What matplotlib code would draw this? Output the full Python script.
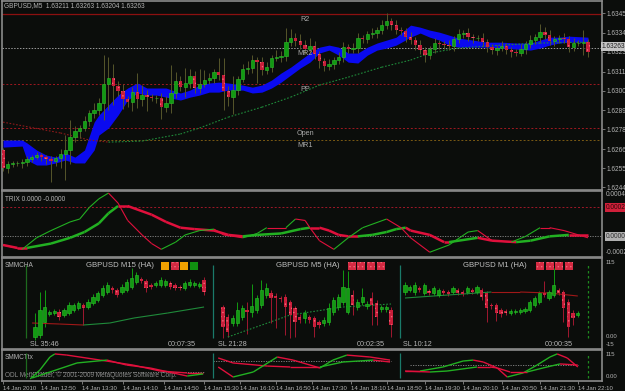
import numpy as np
import matplotlib
matplotlib.use('Agg')
import matplotlib.pyplot as plt
from matplotlib.patches import Rectangle
from matplotlib.collections import LineCollection

plt.rcParams['font.family'] = ['Liberation Sans', 'DejaVu Sans']
plt.rcParams['hatch.linewidth'] = 0.5

# ---------------- data: main GBPUSD M5 chart ----------------
first_open = 1.62660
closes = [1.62556, 1.62579, 1.62585, 1.62585, 1.62590, 1.62608, 1.62619, 1.62631, 1.62619, 1.62608,
          1.62596, 1.62614, 1.62637, 1.62660, 1.62735, 1.62770, 1.62788, 1.62828, 1.62875, 1.62892,
          1.62933, 1.63043, 1.63078, 1.63031, 1.63002, 1.62956, 1.62938, 1.62996, 1.62956, 1.62979,
          1.62967, 1.62962, 1.62962, 1.62909, 1.62933, 1.62991, 1.63060, 1.63025, 1.63049, 1.63089,
          1.63020, 1.63043, 1.63066, 1.63078, 1.63112, 1.63095, 1.63002, 1.62967, 1.63008, 1.63072,
          1.63130, 1.63136, 1.63182, 1.63170, 1.63124, 1.63141, 1.63194, 1.63199, 1.63205, 1.63286,
          1.63310, 1.63292, 1.63269, 1.63246, 1.63263, 1.63217, 1.63176, 1.63147, 1.63159, 1.63182,
          1.63199, 1.63257, 1.63246, 1.63252, 1.63310, 1.63304, 1.63333, 1.63339, 1.63356, 1.63385,
          1.63408, 1.63385, 1.63356, 1.63350, 1.63315, 1.63298, 1.63269, 1.63240, 1.63211, 1.63246,
          1.63281, 1.63275, 1.63269, 1.63263, 1.63304, 1.63333, 1.63339, 1.63315, 1.63310, 1.63310,
          1.63286, 1.63257, 1.63240, 1.63252, 1.63263, 1.63240, 1.63228, 1.63223, 1.63246, 1.63275,
          1.63298, 1.63315, 1.63344, 1.63327, 1.63292, 1.63304, 1.63310, 1.63304, 1.63257, 1.63281,
          1.63281, 1.63286, 1.63228]
# wick lengths in pips above / below the body
wick_up = [1, 2, 1, 1, 2, 2, 1, 2, 1, 1, 2, 1, 3, 9, 10, 3, 2, 3, 2, 4,
           3, 17, 12, 8, 3, 4, 2, 3, 11, 6, 3, 2, 2, 3, 4, 16, 5, 3, 9, 4,
           3, 9, 6, 3, 2, 8, 10, 3, 8, 2, 3, 4, 3, 2, 3, 3, 2, 4, 3, 8,
           5, 3, 4, 3, 5, 3, 2, 2, 3, 2, 3, 3, 2, 3, 3, 2, 2, 3, 2, 3,
           5, 2, 3, 2, 2, 3, 2, 3, 2, 2, 3, 2, 2, 3, 2, 3, 2, 3, 2, 2,
           3, 2, 2, 2, 3, 2, 2, 2, 3, 2, 3, 2, 5, 3, 3, 2, 2, 3, 2, 3,
           2, 7, 2]
wick_dn = [2, 3, 2, 2, 3, 2, 2, 1, 2, 3, 12, 3, 6, 15, 8, 3, 4, 2, 3, 3,
           3, 10, 15, 11, 3, 6, 3, 5, 5, 4, 8, 2, 3, 7, 3, 6, 3, 2, 6, 3,
           3, 3, 2, 2, 3, 3, 11, 5, 10, 3, 2, 3, 3, 12, 3, 2, 3, 2, 3, 3,
           2, 3, 2, 3, 2, 3, 4, 3, 2, 3, 2, 3, 2, 2, 3, 2, 2, 2, 3, 2,
           2, 3, 2, 2, 3, 2, 3, 2, 4, 2, 2, 3, 2, 2, 3, 2, 2, 2, 3, 2,
           2, 3, 2, 3, 2, 2, 3, 2, 2, 3, 2, 2, 3, 2, 2, 3, 2, 2, 3, 2,
           2, 7, 3]

band_x = [0, 4, 5, 7, 9, 11, 13, 15, 17, 19, 20, 22, 24, 26, 28, 30, 32, 34, 37, 39,
          41, 43, 45, 47, 50, 52, 54, 56, 58, 60, 62, 64, 66, 68, 70, 72, 74, 76, 78, 80,
          82, 85, 87, 89, 91, 93, 95, 98, 101, 104, 107, 110, 112, 114, 116, 118, 122]
band_hi = [1.62718, 1.62718, 1.62701, 1.62660, 1.62631, 1.62619, 1.62643, 1.62619, 1.62660, 1.62822,
           1.62863, 1.62921, 1.62979, 1.63020, 1.63049, 1.63020, 1.63020, 1.63020, 1.62991, 1.63008,
           1.63037, 1.63049, 1.63054, 1.63049, 1.63037, 1.63025, 1.63037, 1.63066, 1.63107, 1.63141,
           1.63182, 1.63223, 1.63257, 1.63269, 1.63257, 1.63223, 1.63223, 1.63257, 1.63281, 1.63298,
           1.63315, 1.63385, 1.63373, 1.63356, 1.63344, 1.63327, 1.63310, 1.63298, 1.63286, 1.63286,
           1.63281, 1.63281, 1.63298, 1.63315, 1.63315, 1.63321, 1.63315]
band_lo = [1.62677, 1.62683, 1.62602, 1.62573, 1.62573, 1.62585, 1.62602, 1.62585, 1.62585, 1.62660,
           1.62747, 1.62788, 1.62863, 1.62950, 1.62991, 1.62979, 1.62979, 1.62967, 1.62950, 1.62967,
           1.62979, 1.62996, 1.62996, 1.63008, 1.63008, 1.62991, 1.62996, 1.63020, 1.63054, 1.63095,
           1.63136, 1.63170, 1.63223, 1.63240, 1.63211, 1.63170, 1.63165, 1.63211, 1.63240, 1.63252,
           1.63269, 1.63315, 1.63339, 1.63315, 1.63298, 1.63269, 1.63257, 1.63257, 1.63257, 1.63252,
           1.63246, 1.63240, 1.63252, 1.63269, 1.63281, 1.63286, 1.63286]

ma_x = [0, 12, 18, 22, 29, 37, 41, 47, 54, 60, 66, 72, 79, 85, 89, 95, 104, 112, 122]
ma_vals = [1.62822, 1.62759, 1.62718, 1.62706, 1.62712, 1.62753, 1.62788, 1.62851, 1.62909, 1.62967,
           1.63037, 1.63083, 1.63141, 1.63182, 1.63223, 1.63252, 1.63269, 1.63281, 1.63286]

pivot_names = ['R2', 'MR2', 'PP', 'Open', 'MR1']
pivot_vals = [1.63449, 1.63252, 1.63043, 1.62788, 1.62718]
price_ticks = [1.63455, 1.63340, 1.63230, 1.63115, 1.63005, 1.62890, 1.62780, 1.62665, 1.62555, 1.62445]
last_price = 1.63263

# ---------------- data: TRIX ----------------
trix_fast_x = [0, 4, 7, 10, 14, 16, 18, 20, 22, 24, 26, 29, 31, 33, 36, 38, 41, 44, 46, 50,
               53, 55, 59, 61, 63, 64, 66, 69, 72, 75, 80, 83, 85, 89, 93, 97, 99, 102, 106, 109,
               112, 114, 117, 120, 122]
trix_fast = [-0.00006, -0.00009, -0.00001, 0.00004, 0.00010, 0.00012, 0.00020, 0.00026, 0.00030, 0.00023,
             0.00011, 0.00001, -0.00005, -0.00009, -0.00004, 0.00001, 0.00004, 0.00005, 0.00001, -0.00001,
             0.00002, 0.00006, 0.00006, 0.00012, 0.00011, 0.00006, -0.00003, -0.00009, -0.00001, 0.00006,
             0.00012, 0.00006, -0.00001, -0.00011, -0.00006, 0.00003, 0.00004, -0.00003, -0.00004, 0.00000,
             0.00006, 0.00006, 0.00004, 0.00001, -0.00001]
trix_slow_x = [0, 3, 5, 10, 14, 17, 20, 22, 24, 26, 31, 34, 37, 40, 44, 47, 50, 53, 58, 62,
               64, 66, 68, 70, 72, 74, 77, 80, 82, 84, 85, 89, 92, 93, 99, 102, 107, 110, 114, 118, 122]
trix_slow = [-0.00006, -0.00008, -0.00008, -0.00005, -0.00001, 0.00003, 0.00009, 0.00016, 0.00021, 0.00021,
             0.00015, 0.00010, 0.00006, 0.00005, 0.00004, 0.00001, 0.00000, 0.00001, 0.00002, 0.00005,
             0.00006, 0.00006, 0.00004, 0.00001, 0.00000, 0.00000, 0.00001, 0.00003, 0.00005, 0.00006,
             0.00004, 0.00001, -0.00004, -0.00004, -0.00001, -0.00003, -0.00004, -0.00003, 0.00000, 0.00001,
             0.00001]
trix_level = 0.0002

# ---------------- data: SMMCHA heiken ashi mini charts (points above window low) ----------------
m15_o = [3, 5, 18, 26, 27, 28, 25, 27, 30, 32, 35, 33, 37, 40, 45, 48, 52, 50, 48, 50,
         53, 58, 61, 59, 55, 55, 55, 55, 57, 55, 53, 52, 55, 55, 54, 60]
m15_c = [13, 30, 33, 28, 29, 23, 30, 35, 35, 37, 32, 38, 43, 47, 52, 55, 50, 45, 53, 58,
         62, 65, 59, 52, 53, 57, 60, 59, 53, 52, 52, 57, 58, 57, 56, 48]
m15_up = [14, 18, 17, 2, 2, 3, 2, 3, 2, 2, 2, 3, 3, 2, 3, 3, 2, 2, 3, 3,
          10, 3, 2, 2, 2, 2, 3, 2, 2, 2, 2, 2, 3, 2, 2, 3]
m15_dn = [3, 3, 5, 2, 2, 3, 2, 2, 2, 2, 17, 2, 2, 2, 2, 2, 3, 2, 2, 2,
          2, 2, 2, 4, 2, 2, 2, 2, 2, 2, 2, 2, 2, 2, 2, 3]
m5_o = [33, 23, 17, 17, 23, 30, 28, 30, 35, 45, 47, 44, 42, 43, 38, 32, 23, 22, 23, 22,
        18, 17, 18, 28, 33, 38, 28, 45, 33, 38, 34, 42, 37, 31, 31, 30]
m5_c = [13, 8, 22, 30, 32, 28, 34, 42, 50, 52, 42, 42, 41, 33, 25, 18, 20, 27, 20, 13,
        15, 20, 32, 40, 43, 53, 52, 35, 38, 43, 36, 35, 23, 33, 33, 15]
m5_up = [2, 3, 3, 8, 3, 8, 22, 3, 10, 5, 3, 3, 2, 3, 2, 2, 3, 3, 2, 2,
         2, 3, 5, 3, 3, 17, 17, 5, 3, 9, 3, 6, 3, 2, 2, 3]
m5_dn = [11, 5, 3, 3, 3, 22, 5, 3, 3, 3, 25, 30, 3, 28, 23, 15, 3, 5, 3, 10,
         3, 3, 3, 3, 3, 3, 2, 10, 3, 3, 3, 20, 8, 3, 3, 12]
m1_o = [48, 50, 48, 52, 47, 49, 47, 45, 49, 48, 48, 50, 48, 48, 50, 48, 50, 47, 35, 35,
        30, 29, 27, 28, 28, 29, 30, 35, 38, 47, 42, 45, 50, 48, 38, 27, 25]
m1_c = [55, 53, 55, 50, 55, 47, 52, 50, 47, 46, 52, 47, 46, 52, 48, 53, 43, 32, 34, 27,
        26, 27, 29, 29, 30, 31, 38, 42, 47, 45, 48, 55, 47, 32, 13, 22, 27]
m1_up = [3, 2, 3, 2, 2, 2, 2, 2, 2, 2, 2, 2, 2, 2, 2, 2, 2, 2, 2, 2,
         2, 2, 2, 2, 2, 2, 2, 2, 2, 12, 2, 17, 2, 2, 3, 3, 2]
m1_dn = [3, 2, 3, 2, 2, 2, 2, 2, 2, 2, 2, 2, 2, 2, 2, 2, 3, 14, 3, 8,
         3, 2, 2, 2, 2, 2, 2, 2, 2, 2, 2, 2, 2, 14, 10, 7, 2]
ma15_x = [-0.6, 5, 10, 15.5, 20.5, 27.5, 35]
ma15 = [17, 16, 15, 17, 22, 27, 33]
ma5_x = [1, 14, 25, 35]
ma5 = [3, 25, 33, 36]
ma1_x = [0, 6, 12, 18, 24, 30, 36]
ma1 = [42, 44, 46, 48, 48, 47, 44]

mini_titles = ['GBPUSD M15 (HA)', 'GBPUSD M5 (HA)', 'GBPUSD M1 (HA)']
mini_status = [['#f0a000', '#d42a42', '#f0a000', '#109010'],
               ['#d42a42'] * 4,
               ['#d42a42'] * 4]
mini_sl = ['SL 35:46', 'SL 21:28', 'SL 10:12']
mini_timer = ['00:07:35', '00:02:35', '00:00:35']

# ---------------- data: SMMCTtx ----------------
t15a_x = [-1, 1, 3.1, 4.1, 6.6, 13.5, 20.3, 25.9, 31.5, 34.8]
t15a = [-10, 36, 104, 120, 114, 88, 62, 31, 21, 21]
t15b_x = [-0.6, 3.1, 8.7, 14.9, 19, 23.8, 28.6, 31.5, 34.8]
t15b = [-5, 26, 73, 88, 62, 47, 21, 5, 16]
t5a_x = [-1, 2.1, 9.2, 14, 20.2, 25, 31.3, 34.8]
t5a = [99, 73, 57, 52, 52, 78, 88, 78]
t5b_x = [-1, 2.1, 6.3, 11.3, 14.6, 20.2, 22.9, 25.8, 30.6, 34.8]
t5b = [52, 0, 26, 104, 88, 47, 88, 114, 104, 88]
t1a_x = [0, 3.1, 7.9, 12.1, 14.2, 16.3, 19.2, 21.3, 24.6, 27.5, 30.2, 31.7, 33.8, 36]
t1a = [31, 31, 52, 83, 88, 78, 47, 0, 21, 62, 104, 120, 99, 52]
t1b_x = [0, 5.2, 8.75, 15, 17.7, 19.2, 21.9, 25.4, 28.75, 32.3, 36]
t1b = [31, 26, 31, 52, 52, 47, 26, 26, 47, 68, 62]
tt_levels = [26, 83, 62]

time_ticks = [0, 8, 16.5, 25, 33.5, 42, 49.5, 57, 64.5, 72.5, 80, 88, 96, 104, 112, 120]
time_labels = ['14 Jan 2010', '14 Jan 12:50', '14 Jan 13:30', '14 Jan 14:10', '14 Jan 14:50',
               '14 Jan 15:30', '14 Jan 16:10', '14 Jan 16:50', '14 Jan 17:30', '14 Jan 18:10',
               '14 Jan 18:50', '14 Jan 19:30', '14 Jan 20:10', '14 Jan 20:50', '14 Jan 21:30',
               '14 Jan 22:10']

# ---------------- style ----------------
W, H = 625, 391
BG = '#0b0d0b'
FRAME = '#8a8a8a'
TXT = '#b4b4b4'
BULL = '#129a12'
BULL_E = '#2cc02c'
BEAR = '#c81e3a'
BEAR_E = '#f06a7a'
UPC = '#22b022'
DNC = '#e0103c'
FS = 4.7


def box(x0, y0, x1, y1):
    return [x0 / W, 1 - y1 / H, (x1 - x0) / W, (y1 - y0) / H]


def fx(x):
    return x / W


def fy(y):
    return 1 - y / H


def frame(ax):
    ax.set_facecolor(BG)
    for s in ax.spines.values():
        s.set_color(FRAME)
        s.set_linewidth(1.2)


def slope_line(ax, x, y, lw, ls='-', up=UPC, dn=DNC, z=3):
    pts = np.column_stack([x, y])
    segs = np.stack([pts[:-1], pts[1:]], axis=1)
    cols = [up if b > a else dn for a, b in zip(y[:-1], y[1:])]
    ax.add_collection(LineCollection(segs, colors=cols, linewidths=lw, linestyles=ls, zorder=z))


def candles(ax, o, c, up, dn, unit, wick_col=None, width=0.7, min_h=0.0):
    o = np.asarray(o, float)
    c = np.asarray(c, float)
    idx = np.arange(len(o))
    top = np.maximum(o, c)
    bot = np.minimum(o, c)
    bull = c >= o
    hi = top + np.asarray(up) * unit
    lo = bot - np.asarray(dn) * unit
    for i in idx:
        wc = wick_col if wick_col else (BULL if bull[i] else '#a01830')
        ax.vlines(i, lo[i], hi[i], color=wc, lw=0.7, zorder=3)
    hgt = np.maximum(top - bot, min_h)
    ax.bar(idx[bull], hgt[bull], bottom=bot[bull], width=width, color=BULL,
           edgecolor=BULL_E, linewidth=0.4, zorder=4)
    ax.bar(idx[~bull], hgt[~bull], bottom=bot[~bull], width=width, color=BEAR,
           edgecolor=BEAR_E, linewidth=0, hatch='....', zorder=4)


fig = plt.figure(figsize=(6.25, 3.91), dpi=100, facecolor=BG)

# ---------------- main chart ----------------
step = 4.795
x0 = 3
xl = ((2 - x0) / step, (602 - x0) / step)
ax = fig.add_axes(box(2, 1, 602, 190))
frame(ax)
ax.set_xlim(*xl)
ax.set_ylim(1.62428, 1.63525)

ax.fill_between(band_x, band_lo, band_hi, color='#0a0af0', lw=0, zorder=2)
opens = [first_open] + closes[:-1]
candles(ax, opens, closes, wick_up, wick_dn, 0.0001, wick_col='#56562a', min_h=0.00002)
slope_line(ax, ma_x, ma_vals, 0.8, ls=(0, (1.5, 1.5)), up='#1f8a3a', dn='#8c1a1a', z=2.5)

pstyles = [dict(color='#8c1010', ls='-', lw=0.9),
           dict(color='#9a9a9a', ls=(0, (1.5, 1.5)), lw=0.7),
           dict(color='#a01820', ls=(0, (2, 2)), lw=0.7),
           dict(color='#a01820', ls=(0, (2, 2)), lw=0.7),
           dict(color='#7a5a14', ls=(0, (2, 2)), lw=0.7)]
for name, val, st in zip(pivot_names, pivot_vals, pstyles):
    ax.axhline(val, zorder=1.5, **st)
    ax.annotate(name, (63, val), xytext=(0, -1.2), textcoords='offset points',
                ha='center', va='top', color='#a8a8a8', fontsize=5.2, zorder=6)

ax.yaxis.tick_right()
ax.set_yticks(price_ticks)
ax.set_yticklabels(['%.5f' % p for p in price_ticks])
ax.tick_params(axis='y', colors=FRAME, labelcolor=TXT, labelsize=FS, length=2, pad=1.5, width=0.6)
ax.set_xticks([])
ax.text(1.0, last_price, '%.5f' % last_price, transform=ax.get_yaxis_transform(),
        ha='left', va='center', fontsize=FS, color='#202020',
        bbox=dict(boxstyle='square,pad=0.15', fc='#c4c4c4', ec='none'), clip_on=False)
ax.text(0.003, 0.995, 'GBPUSD,M5  1.63211 1.63263 1.63204 1.63263', transform=ax.transAxes,
        ha='left', va='top', fontsize=FS, color=TXT)

# ---------------- TRIX ----------------
at = fig.add_axes(box(2, 191, 602, 257))
frame(at)
at.set_xlim(*xl)
at.set_ylim(-0.000143, 0.000314)
at.axhline(trix_level, color='#a01828', ls=(0, (2, 2)), lw=0.7)
at.axhline(0, color='#8a8a8a', ls=(0, (1.5, 1.5)), lw=0.6)
slope_line(at, trix_slow_x, trix_slow, 1.8)
slope_line(at, trix_fast_x, trix_fast, 0.8)
at.set_xticks([])
at.set_yticks([])
at.text(0.005, 0.93, 'TRIX 0.0000 -0.0000', transform=at.transAxes, ha='left', va='top',
        fontsize=FS, color=TXT)
fig.text(fx(606), fy(195), '0.0004', fontsize=FS, color=TXT, va='center')
fig.text(fx(606), fy(252), '-0.0002', fontsize=FS, color=TXT, va='center')
at.text(1.007, trix_level, '0.00020', transform=at.get_yaxis_transform(), ha='left', va='center',
        fontsize=FS, color='#300808', bbox=dict(boxstyle='square,pad=0.15', fc='#d0203a', ec='none'),
        clip_on=False)
at.text(1.007, 0, '0.00000', transform=at.get_yaxis_transform(), ha='left', va='center',
        fontsize=FS, color='#303030', bbox=dict(boxstyle='square,pad=0.15', fc='#b0b0b0', ec='none'),
        clip_on=False)

# ---------------- SMMCHA / SMMCTtx panels ----------------
ah = fig.add_axes(box(2, 258, 602, 349))
frame(ah)
ah.set_xlim(*xl)
ah.set_xticks([])
ah.set_yticks([])
ah.text(0.005, 0.96, 'SMMCHA', transform=ah.transAxes, ha='left', va='top', fontsize=FS, color=TXT)

aw = fig.add_axes(box(2, 350, 602, 381))
frame(aw)
aw.set_xlim(*xl)
aw.set_yticks([])
aw.set_xticks(time_ticks)
aw.set_xticklabels(time_labels)
for lbl in aw.get_xticklabels():
    lbl.set_horizontalalignment('left')
aw.tick_params(axis='x', colors=FRAME, labelcolor=TXT, labelsize=4.3, length=2.5, pad=0.8, width=0.6)
aw.text(0.005, 0.88, 'SMMCTtx', transform=aw.transAxes, ha='left', va='top', fontsize=FS, color=TXT)
aw.text(0.005, 0.08, 'ODL MetaTrader, \u00a9 2001-2009 MetaQuotes Software Corp.',
        transform=aw.transAxes, ha='left', va='bottom', fontsize=FS, color='#8c8c8c', zorder=1)

for txt, yy in [('115', 263), ('0.00', 337), ('-15', 344), ('115', 355), ('0.00', 377)]:
    fig.text(fx(606), fy(yy), txt, fontsize=4.3, color=TXT, va='center')

minis = [
    dict(x0=35, st=4.83, o=m15_o, c=m15_c, up=m15_up, dn=m15_dn, max_=ma15_x, ma=ma15, mals='-',
         ta=(t15a_x, t15a), tb=(t15b_x, t15b), lev=tt_levels[0], lev_x=(-1, 35),
         vl=[(-1.86, '#1e6a1e', '-')], tx=(86, 161), sl_x=30, tm_x=168),
    dict(x0=223, st=4.8, o=m5_o, c=m5_c, up=m5_up, dn=m5_dn, max_=ma5_x, ma=ma5, mals=(0, (1.5, 1.5)),
         ta=(t5a_x, t5a), tb=(t5b_x, t5b), lev=tt_levels[1], lev_x=(-2, 35),
         vl=[(-2.08, '#1a7a6a', '-')], tx=(276, 348), sl_x=218, tm_x=357),
    dict(x0=405, st=4.8, o=m1_o, c=m1_c, up=m1_up, dn=m1_dn, max_=ma1_x, ma=ma1, mals='-',
         ta=(t1a_x, t1a), tb=(t1b_x, t1b), lev=tt_levels[2], lev_x=(1, 36),
         vl=[(-1.04, '#1a7a6a', '-'), (38.1, '#1e8a1e', (0, (2, 2)))], tx=(463, 536), sl_x=403, tm_x=545),
]

for k, m in enumerate(minis):
    mxl = ((2 - m['x0']) / m['st'], (602 - m['x0']) / m['st'])
    a1 = fig.add_axes(box(2, 258, 602, 349))
    a1.set_facecolor('none')
    a1.axis('off')
    a1.set_xlim(*mxl)
    a1.set_ylim(-9, 82)
    candles(a1, m['o'], m['c'], m['up'], m['dn'], 1.0, width=0.7, min_h=1.0)
    slope_line(a1, m['max_'], m['ma'], 0.8, ls=m['mals'], up='#1f8a3a', dn='#a01818', z=3.5)
    for vx, vc, vls in m['vl']:
        a1.vlines(vx, 2, 75, color=vc, lw=0.9, ls=vls)

    a2 = fig.add_axes(box(2, 350, 602, 381))
    a2.set_facecolor('none')
    a2.axis('off')
    a2.set_xlim(*mxl)
    a2.set_ylim(-20.8, 140.4)
    a2.hlines(m['lev'], m['lev_x'][0], m['lev_x'][1], color='#8a8a8a', lw=0.6, ls=(0, (1.5, 1.5)))
    slope_line(a2, m['ta'][0], m['ta'][1], 1.0)
    slope_line(a2, m['tb'][0], m['tb'][1], 1.0)
    for vx, vc, vls in m['vl']:
        a2.vlines(vx, -5, 125, color=vc, lw=0.9, ls=vls)

    tx, sqx = m['tx']
    fig.text(fx(tx), fy(265.5), mini_titles[k], fontsize=5.6, color='#c0c0c0', va='center', ha='left')
    for j, col in enumerate(mini_status[k]):
        fig.patches.append(Rectangle((fx(sqx + 9.5 * j), fy(270)), 8 / W, 8 / H,
                                     transform=fig.transFigure, fc=col,
                                     ec='#f06a7a' if col == '#d42a42' else col,
                                     hatch='....' if col == '#d42a42' else None, lw=0))
    fig.text(fx(m['sl_x']), fy(345), mini_sl[k], fontsize=5.2, color=TXT, va='center', ha='left')
    fig.text(fx(m['tm_x']), fy(345), mini_timer[k], fontsize=5.2, color=TXT, va='center', ha='left')

fig.savefig('out.png', dpi=100, facecolor=BG)
